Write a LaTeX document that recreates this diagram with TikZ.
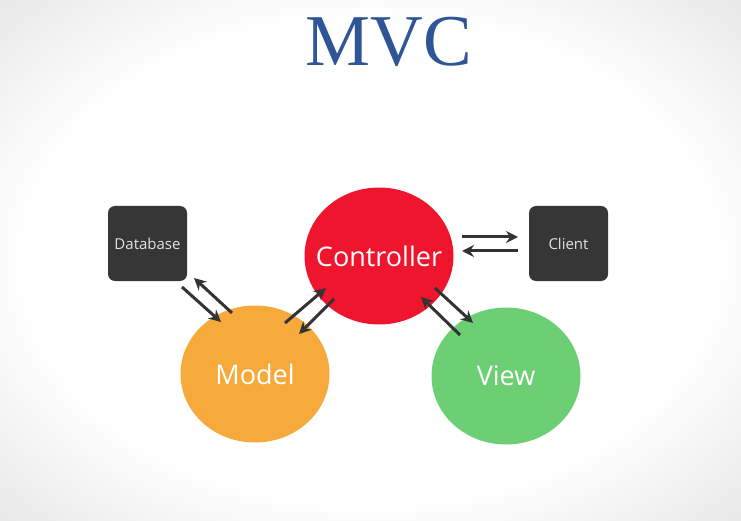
\documentclass[tikz,border=0pt]{standalone}
\usepackage{fontspec}
\setmainfont{Open Sans}
\newfontfamily\titlefont{Liberation Serif}
\usetikzlibrary{arrows.meta,shapes.geometric}
\definecolor{ctrlred}{HTML}{F0152F}
\definecolor{modelorange}{HTML}{F6AA3B}
\definecolor{viewgreen}{HTML}{6DCF73}
\definecolor{boxgray}{HTML}{363636}
\definecolor{arrowgray}{HTML}{333333}
\definecolor{titleblue}{HTML}{2F5597}
\definecolor{labelgray}{HTML}{E2E2E2}
\pgfdeclareradialshading{bgshade}{\pgfpoint{0bp}{0bp}}{color(0bp)=(white); color(23bp)=(white); color(35.4bp)=(black!9); color(50bp)=(black!9)}
\tikzset{
  bubble/.style={ellipse, inner sep=0pt, minimum width=149pt, minimum height=137pt,
    label={[text=white, font=\fontsize{27}{27}\selectfont]center:#1}},
  darkbox/.style={rounded corners=7pt, fill=boxgray, minimum width=79pt, minimum height=75pt, inner sep=0pt, text=labelgray, font=\fontsize{15}{15}\selectfont},
  conn/.style={draw=arrowgray, line width=3pt, -{Stealth[length=12pt,width=12pt,inset=4pt]}}
}
\begin{document}
\begin{tikzpicture}[x=1pt,y=-1pt]
\useasboundingbox (0,0) rectangle (741,521);
\shade[shading=bgshade] (0,0) rectangle (741,521);
\node[anchor=base, text=titleblue, font=\titlefont\fontsize{73}{73}\selectfont, inner sep=0pt] (title) at (389,66) {MVC};
\node[bubble=Controller, fill=ctrlred] (ctrl) at (379,256) {};
\node[bubble=Model, fill=modelorange] (model) at (255,374) {};
\node[bubble=View, fill=viewgreen] (view) at (506,376) {};
\node[darkbox] (db) at (147.5,243.5) {Database};
\node[darkbox] (client) at (568.5,243.5) {Client};
% endpoints
\coordinate (dbm1) at (182,287);
\coordinate (dbm2) at (221,322);
\coordinate (mdb1) at (232,313);
\coordinate (mdb2) at (194,278);
\coordinate (mc1) at (285,323);
\coordinate (mc2) at (326,288);
\coordinate (cm1) at (334,299);
\coordinate (cm2) at (299,334);
\coordinate (cc1) at (462,237);
\coordinate (cc2) at (518,237);
\coordinate (clc1) at (518,251);
\coordinate (clc2) at (462,251);
\coordinate (cv1) at (435,288);
\coordinate (cv2) at (473,323);
\coordinate (vc1) at (460,335);
\coordinate (vc2) at (421,297);
\draw[conn] (dbm1) -- (dbm2);
\draw[conn] (mdb1) -- (mdb2);
\draw[conn] (mc1) -- (mc2);
\draw[conn] (cm1) -- (cm2);
\draw[conn] (cc1) -- (cc2);
\draw[conn] (clc1) -- (clc2);
\draw[conn] (cv1) -- (cv2);
\draw[conn] (vc1) -- (vc2);
\end{tikzpicture}
\end{document}
